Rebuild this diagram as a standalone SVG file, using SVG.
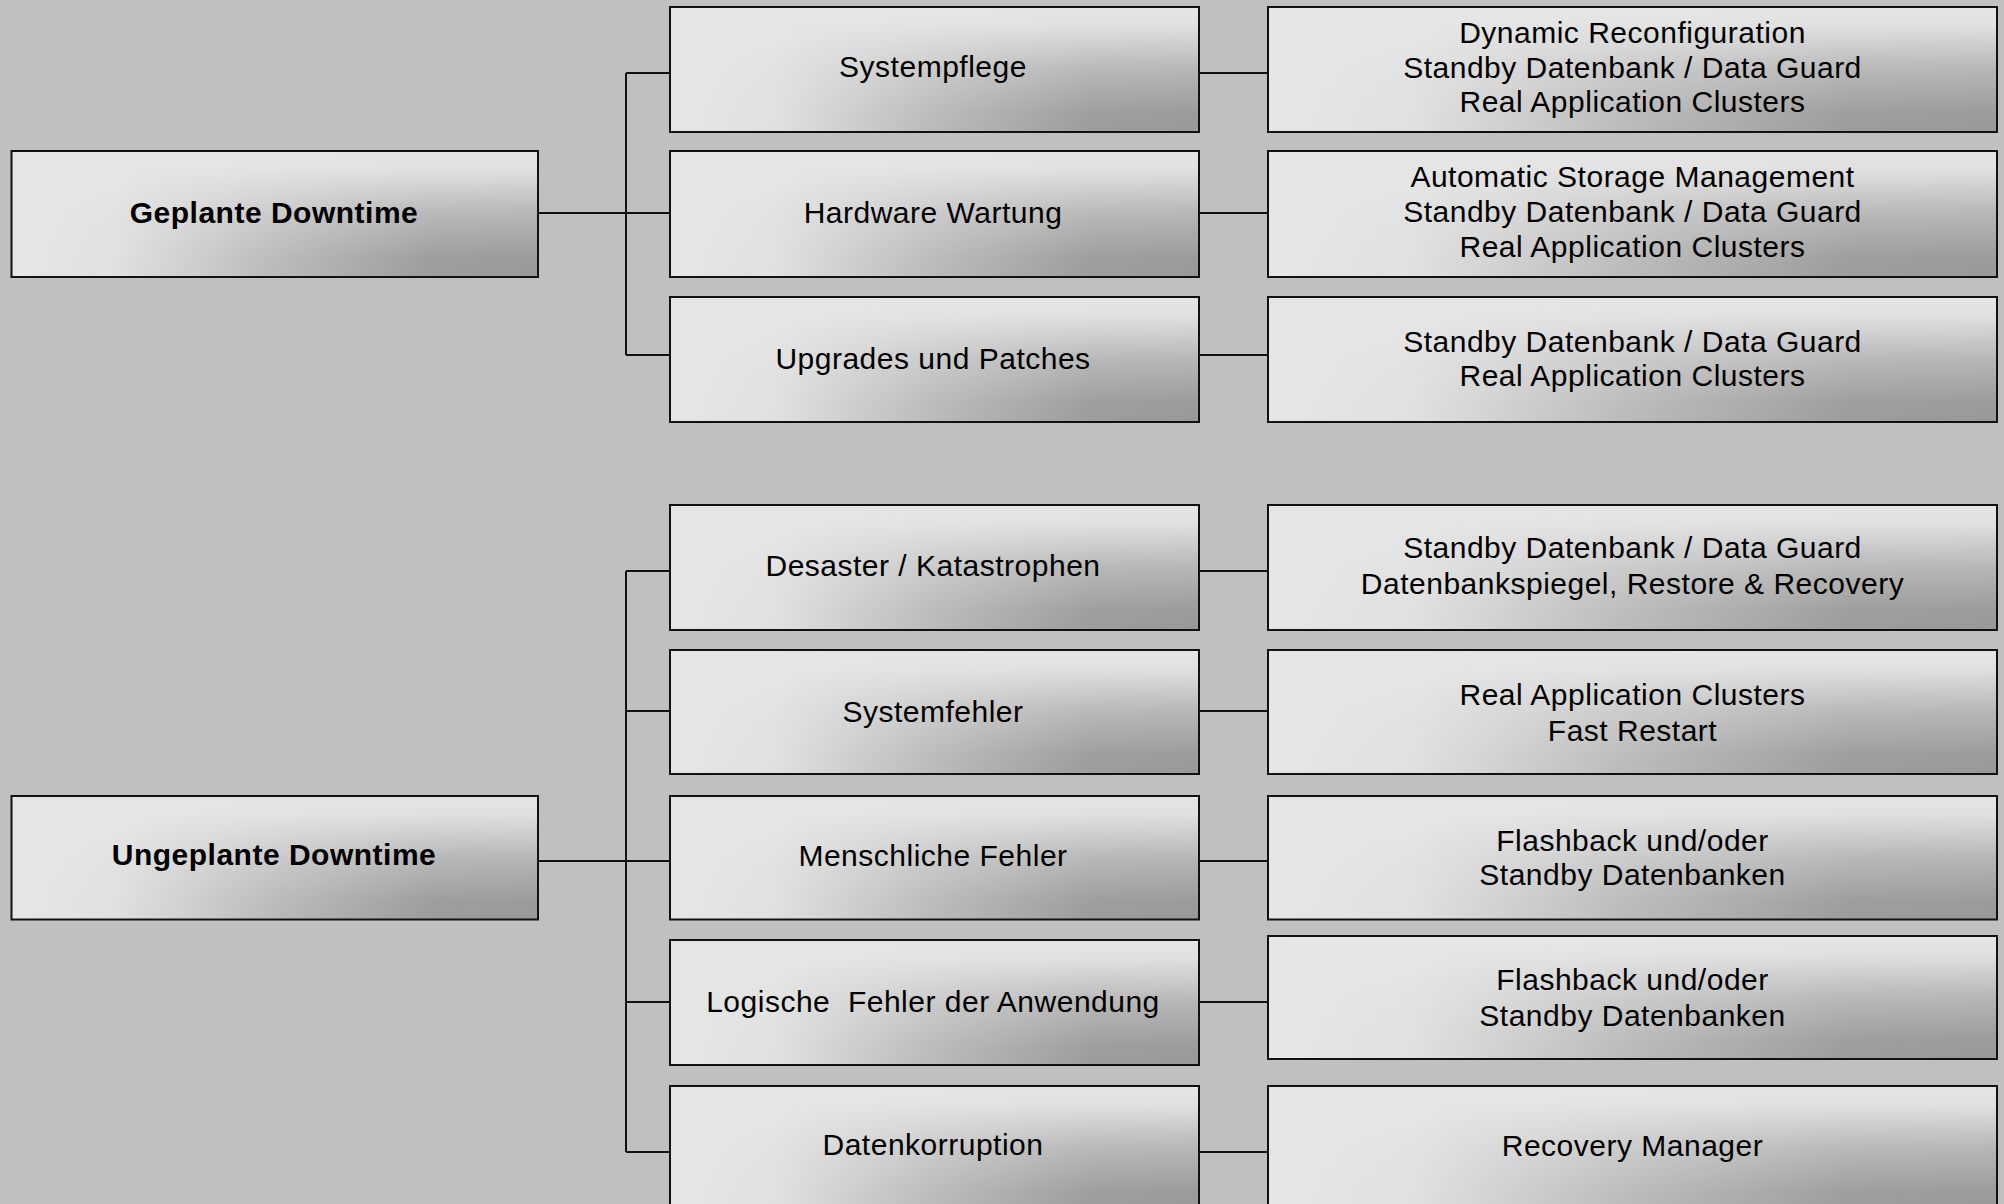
<svg xmlns="http://www.w3.org/2000/svg" width="2004" height="1204" viewBox="0 0 2004 1204">
<defs>
<linearGradient id="gh" x1="0" y1="0" x2="1" y2="0">
<stop offset="0" stop-color="#e6e6e6"/>
<stop offset="0.2" stop-color="#e0e0e0"/>
<stop offset="0.5" stop-color="#bababa"/>
<stop offset="0.8" stop-color="#9c9c9c"/>
<stop offset="1" stop-color="#999999"/>
</linearGradient>
<linearGradient id="gv" x1="0" y1="0" x2="0" y2="1">
<stop offset="0" stop-color="#e6e6e6" stop-opacity="1"/>
<stop offset="0.15" stop-color="#e6e6e6" stop-opacity="0.92"/>
<stop offset="0.5" stop-color="#e6e6e6" stop-opacity="0.38"/>
<stop offset="0.85" stop-color="#e6e6e6" stop-opacity="0.03"/>
<stop offset="1" stop-color="#e6e6e6" stop-opacity="0"/>
</linearGradient>
</defs>
<style>
.b{fill:url(#gh);}
.o{fill:url(#gv);stroke:#111;stroke-width:2;}
.t{font-family:"Liberation Sans",Arial,sans-serif;font-size:30px;letter-spacing:0.5px;fill:#000;text-anchor:middle;white-space:pre;}
.bold{font-weight:bold;}
.c{fill:none;stroke:#111;stroke-width:2;}
</style>
<rect x="0" y="0" width="2004" height="1204" fill="#c0c0c0"/>

<g id="connectors">
<path class="c" d="M538 213H626M626 73V355M626 73H670M626 213H670M626 355H670"/>
<path class="c" d="M1199 73H1268M1199 213H1268M1199 355H1268"/>
<path class="c" d="M538 861H626M626 571V1152M626 571H670M626 711H670M626 861H670M626 1002H670M626 1152H670"/>
<path class="c" d="M1199 571H1268M1199 711H1268M1199 861H1268M1199 1002H1268M1199 1152H1268"/>
</g>

<g id="geplante">
<rect class="b" x="11.5" y="151" width="526.5" height="126"/>
<rect class="o" x="11.5" y="151" width="526.5" height="126"/>
<text class="t bold" x="274" y="223">Geplante Downtime</text>
</g>
<g id="ungeplante">
<rect class="b" x="11.5" y="796" width="526.5" height="123.5"/>
<rect class="o" x="11.5" y="796" width="526.5" height="123.5"/>
<text class="t bold" x="274" y="865">Ungeplante Downtime</text>
</g>

<g id="systempflege">
<rect class="b" x="670" y="7" width="529" height="125"/>
<rect class="o" x="670" y="7" width="529" height="125"/>
<text class="t" x="933" y="77">Systempflege</text>
</g>
<g id="hardware">
<rect class="b" x="670" y="151" width="529" height="126"/>
<rect class="o" x="670" y="151" width="529" height="126"/>
<text class="t" x="933" y="223">Hardware Wartung</text>
</g>
<g id="upgrades">
<rect class="b" x="670" y="297" width="529" height="125"/>
<rect class="o" x="670" y="297" width="529" height="125"/>
<text class="t" x="933" y="369">Upgrades und Patches</text>
</g>
<g id="desaster">
<rect class="b" x="670" y="505" width="529" height="125"/>
<rect class="o" x="670" y="505" width="529" height="125"/>
<text class="t" x="933" y="576">Desaster / Katastrophen</text>
</g>
<g id="systemfehler">
<rect class="b" x="670" y="650" width="529" height="124"/>
<rect class="o" x="670" y="650" width="529" height="124"/>
<text class="t" x="933" y="722">Systemfehler</text>
</g>
<g id="menschliche">
<rect class="b" x="670" y="796" width="529" height="123.5"/>
<rect class="o" x="670" y="796" width="529" height="123.5"/>
<text class="t" x="933" y="866">Menschliche Fehler</text>
</g>
<g id="logische">
<rect class="b" x="670" y="940" width="529" height="125"/>
<rect class="o" x="670" y="940" width="529" height="125"/>
<text class="t" x="933" y="1012">Logische  Fehler der Anwendung</text>
</g>
<g id="datenkorruption">
<rect class="b" x="670" y="1086" width="529" height="125"/>
<rect class="o" x="670" y="1086" width="529" height="125"/>
<text class="t" x="933" y="1155">Datenkorruption</text>
</g>

<g id="r-systempflege">
<rect class="b" x="1268" y="7" width="729" height="125"/>
<rect class="o" x="1268" y="7" width="729" height="125"/>
<text class="t" x="1632.5" y="43">Dynamic Reconfiguration</text>
<text class="t" x="1632.5" y="77.5">Standby Datenbank / Data Guard</text>
<text class="t" x="1632.5" y="112">Real Application Clusters</text>
</g>
<g id="r-hardware">
<rect class="b" x="1268" y="151" width="729" height="126"/>
<rect class="o" x="1268" y="151" width="729" height="126"/>
<text class="t" x="1632.5" y="187">Automatic Storage Management</text>
<text class="t" x="1632.5" y="222">Standby Datenbank / Data Guard</text>
<text class="t" x="1632.5" y="257">Real Application Clusters</text>
</g>
<g id="r-upgrades">
<rect class="b" x="1268" y="297" width="729" height="125"/>
<rect class="o" x="1268" y="297" width="729" height="125"/>
<text class="t" x="1632.5" y="352">Standby Datenbank / Data Guard</text>
<text class="t" x="1632.5" y="386">Real Application Clusters</text>
</g>
<g id="r-desaster">
<rect class="b" x="1268" y="505" width="729" height="125"/>
<rect class="o" x="1268" y="505" width="729" height="125"/>
<text class="t" x="1632.5" y="557.5">Standby Datenbank / Data Guard</text>
<text class="t" x="1632.5" y="593.5">Datenbankspiegel, Restore &amp; Recovery</text>
</g>
<g id="r-systemfehler">
<rect class="b" x="1268" y="650" width="729" height="124"/>
<rect class="o" x="1268" y="650" width="729" height="124"/>
<text class="t" x="1632.5" y="705">Real Application Clusters</text>
<text class="t" x="1632.5" y="741">Fast Restart</text>
</g>
<g id="r-menschliche">
<rect class="b" x="1268" y="796" width="729" height="123.5"/>
<rect class="o" x="1268" y="796" width="729" height="123.5"/>
<text class="t" x="1632.5" y="850.5">Flashback und/oder</text>
<text class="t" x="1632.5" y="885">Standby Datenbanken</text>
</g>
<g id="r-logische">
<rect class="b" x="1268" y="936" width="729" height="123"/>
<rect class="o" x="1268" y="936" width="729" height="123"/>
<text class="t" x="1632.5" y="990">Flashback und/oder</text>
<text class="t" x="1632.5" y="1026">Standby Datenbanken</text>
</g>
<g id="r-datenkorruption">
<rect class="b" x="1268" y="1086" width="729" height="125"/>
<rect class="o" x="1268" y="1086" width="729" height="125"/>
<text class="t" x="1632.5" y="1156">Recovery Manager</text>
</g>
</svg>
